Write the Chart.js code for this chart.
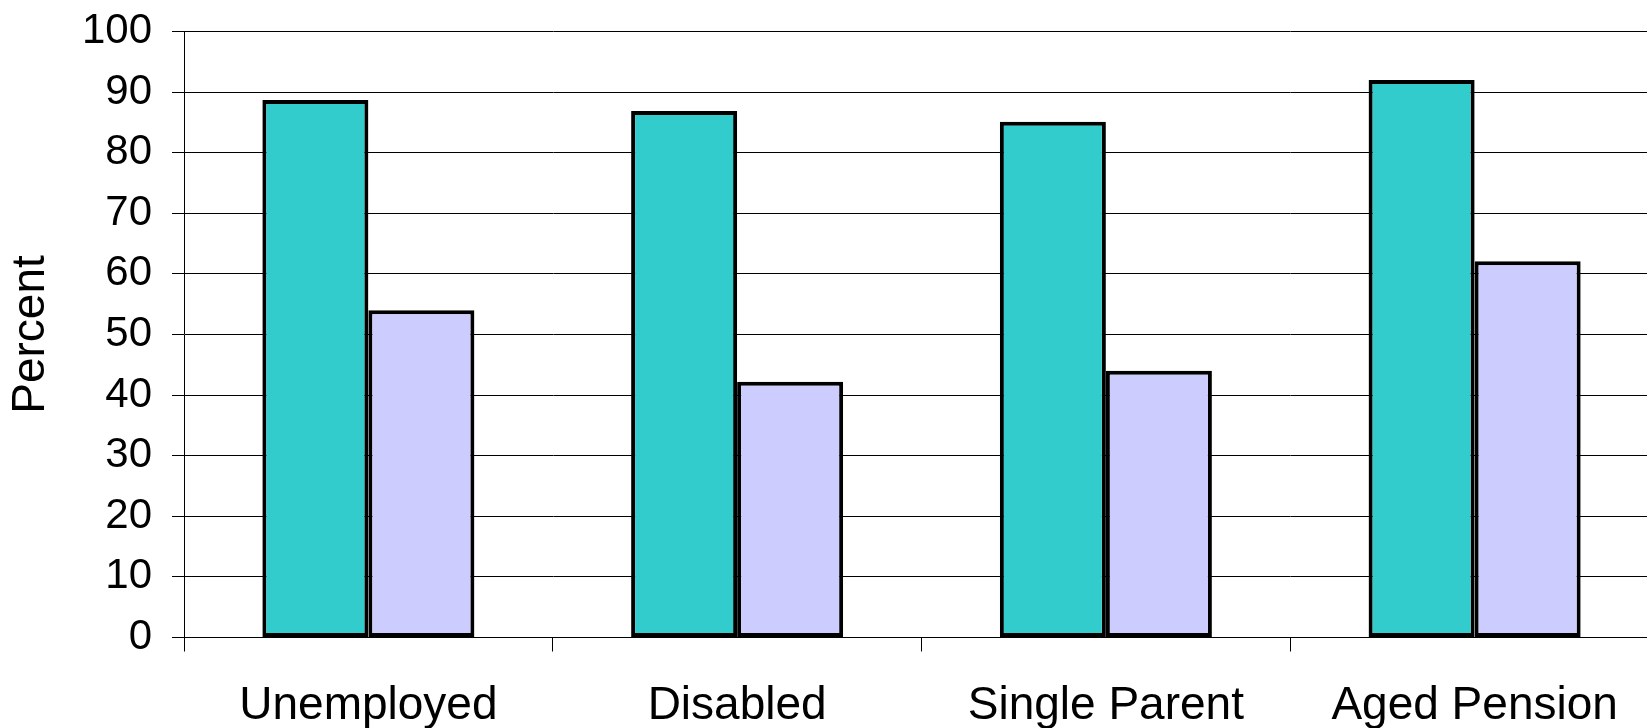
<!DOCTYPE html>
<html>
<head>
<meta charset="utf-8">
<script src="https://cdn.jsdelivr.net/npm/chart.js@4/dist/chart.umd.min.js"></script>
<style>
  html, body { margin: 0; padding: 0; background: #fff; overflow: hidden; }
  #wrap { width: 1659px; height: 728px; }
</style>
</head>
<body>
<div id="wrap"><canvas id="Chart"></canvas></div>
<script>
const categories = ["Unemployed", "Disabled", "Single Parent", "Aged Pension"];
const seriesA = [88.7, 86.9, 85.1, 92.0];
const seriesB = [54.0, 42.2, 44.0, 62.1];
const yTicks = [0, 10, 20, 30, 40, 50, 60, 70, 80, 90, 100];

const ctx = document.getElementById("Chart");
const fontFamily = "'Liberation Sans', Arial, sans-serif";

new Chart(ctx, {
  type: "bar",
  data: {
    labels: categories,
    datasets: [
      {
        label: "Series 1",
        data: seriesA,
        backgroundColor: "#33cccc",
        borderColor: "#000",
        borderWidth: 4,
        borderSkipped: false,
      },
      {
        label: "Series 2",
        data: seriesB,
        backgroundColor: "#ccccff",
        borderColor: "#000",
        borderWidth: 4,
        borderSkipped: false,
      },
    ],
  },
  options: {
    responsive: true,
    maintainAspectRatio: false,
    animation: false,
    layout: { padding: { top: 31.5, left: 0, right: 0, bottom: 0 } },
    datasets: {
      bar: { categoryPercentage: 0.575, barPercentage: 1.0 },
    },
    plugins: {
      legend: { display: false },
      tooltip: { enabled: false },
    },
    scales: {
      x: {
        grid: {
          offset: true,
          drawOnChartArea: false,
          drawTicks: true,
          tickLength: 14,
          color: "#000",
          lineWidth: 1,
        },
        border: { display: true, color: "#000", width: 1 },
        ticks: {
          color: "#000",
          padding: 27,
          maxRotation: 0,
          autoSkip: false,
          font: { family: fontFamily, size: 46, lineHeight: 1.2 },
        },
        afterFit: (scale) => { scale.height = 90.5; },
      },
      y: {
        min: 0,
        max: 100,
        afterBuildTicks: (scale) => {
          scale.ticks = yTicks.map((v) => ({ value: v }));
        },
        grid: {
          color: "#000",
          lineWidth: 1,
          drawTicks: true,
          tickLength: 12,
        },
        border: { display: true, color: "#000", width: 1 },
        ticks: {
          color: "#000",
          padding: 20,
          font: { family: fontFamily, size: 42, lineHeight: 1.2 },
        },
        title: {
          display: true,
          text: "Percent",
          color: "#000",
          padding: { top: 4, bottom: 0 },
          font: { family: fontFamily, size: 46, lineHeight: 1.2 },
        },
        afterFit: (scale) => {
          scale.width = 184;
          scale.paddingTop = 0;
          scale.paddingBottom = 0;
        },
      },
    },
  },
});
</script>
</body>
</html>
